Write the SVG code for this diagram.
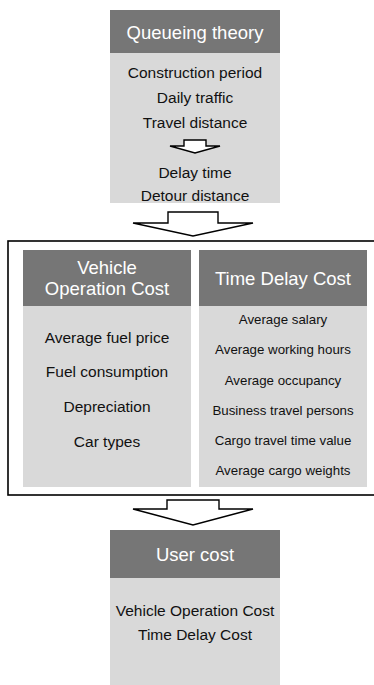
<svg xmlns="http://www.w3.org/2000/svg" width="374" height="685" viewBox="0 0 374 685">
  <style>
    .head { fill: #767676; }
    .body { fill: #d9d9d9; }
    .ht { font-family: "Liberation Sans", Arial, sans-serif; font-size: 18.5px; fill: #ffffff; text-anchor: middle; dominant-baseline: central; }
    .bt { font-family: "Liberation Sans", Arial, sans-serif; font-size: 15.5px; fill: #111111; text-anchor: middle; dominant-baseline: central; }
    .st { font-family: "Liberation Sans", Arial, sans-serif; font-size: 13.3px; fill: #111111; text-anchor: middle; dominant-baseline: central; }
    .arrow { fill: #ffffff; stroke: #000000; stroke-width: 1.4; stroke-linejoin: miter; }
    .frame { fill: none; stroke: #000000; stroke-width: 1.6; }
  </style>
  <rect width="374" height="685" fill="#ffffff"/>

  <g id="queueing-theory">
    <rect class="head" x="110" y="10" width="170" height="43"/>
    <rect class="body" x="110" y="53" width="170" height="150"/>
    <text class="ht" x="195" y="32">Queueing theory</text>
    <text class="bt" x="195" y="72">Construction period</text>
    <text class="bt" x="195" y="97">Daily traffic</text>
    <text class="bt" x="195" y="122">Travel distance</text>
    <polygon class="arrow" points="184,140 206,140 206,146 220,146 195,153 170,146 184,146"/>
    <text class="bt" x="195" y="172">Delay time</text>
    <text class="bt" x="195" y="195">Detour distance</text>
  </g>

  <g id="cost-frame">
    <rect class="frame" x="8" y="241" width="370" height="254"/>
  </g>

  <g id="vehicle-operation-cost">
    <rect class="head" x="23" y="250" width="168" height="56"/>
    <rect class="body" x="23" y="306" width="168" height="181"/>
    <text class="ht" x="107" y="267">Vehicle</text>
    <text class="ht" x="107" y="288">Operation Cost</text>
    <text class="bt" x="107" y="337">Average fuel price</text>
    <text class="bt" x="107" y="371">Fuel consumption</text>
    <text class="bt" x="107" y="406">Depreciation</text>
    <text class="bt" x="107" y="441">Car types</text>
  </g>

  <g id="time-delay-cost">
    <rect class="head" x="199" y="250" width="168" height="56"/>
    <rect class="body" x="199" y="306" width="168" height="181"/>
    <text class="ht" x="283" y="278">Time Delay Cost</text>
    <text class="st" x="283" y="319">Average salary</text>
    <text class="st" x="283" y="349">Average working hours</text>
    <text class="st" x="283" y="380">Average occupancy</text>
    <text class="st" x="283" y="410">Business travel persons</text>
    <text class="st" x="283" y="440">Cargo travel time value</text>
    <text class="st" x="283" y="470">Average cargo weights</text>
  </g>

  <g id="user-cost">
    <rect class="head" x="110" y="530" width="170" height="48"/>
    <rect class="body" x="110" y="578" width="170" height="107"/>
    <text class="ht" x="195" y="554">User cost</text>
    <text class="bt" x="195" y="610">Vehicle Operation Cost</text>
    <text class="bt" x="195" y="634">Time Delay Cost</text>
  </g>

  <g id="connectors">
    <polygon class="arrow" points="168,212 218,212 218,223 253,223 193,236 133,223 168,223"/>
    <polygon class="arrow" points="167,500 219,500 219,509 253,509 193,525 133,509 167,509"/>
  </g>
</svg>
